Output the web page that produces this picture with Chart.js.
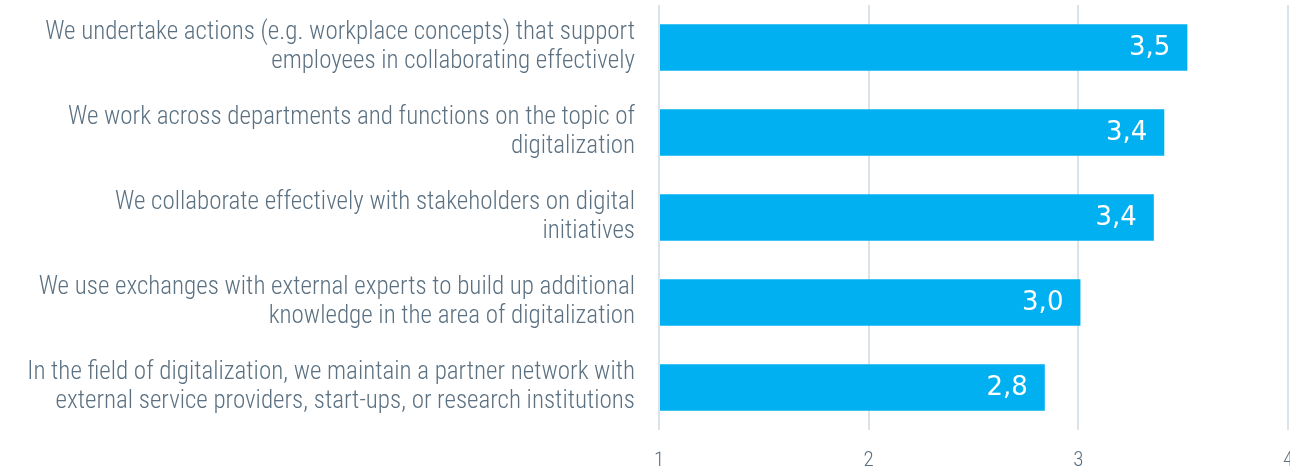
<!DOCTYPE html>
<html>
<head>
<meta charset="utf-8">
<script src="https://cdn.jsdelivr.net/npm/chart.js@4/dist/chart.umd.min.js"></script>
<style>
  html, body { margin: 0; padding: 0; background: #fff; overflow: hidden; }
  #wrap { position: relative; width: 1293px; height: 469px; }
</style>
</head>
<body>
<div id="wrap"><canvas id="collab-chart"></canvas></div>
<script>
// Collaboration statements — mean agreement score (scale 1–4)
const CATEGORIES = [
  ['We undertake actions (e.g. workplace concepts) that support', 'employees in collaborating effectively'],
  ['We work across departments and functions on the topic of', 'digitalization'],
  ['We collaborate effectively with stakeholders on digital', 'initiatives'],
  ['We use exchanges with external experts to build up additional', 'knowledge in the area of digitalization'],
  ['In the field of digitalization, we maintain a partner network with', 'external service providers, start-ups, or research institutions'],
];
const SCORES = [3.52, 3.41, 3.36, 3.01, 2.84];
const X_TICKS = [1, 2, 3, 4];

const BAR_BLUE   = '#00b0f0';
const LABEL_GREY = '#5b7182';
const GRID_GREY  = '#dbe3e8';
const LABEL_FONT = '"Roboto Condensed", "Liberation Sans Narrow", "DejaVu Sans Condensed", sans-serif';

// value text inside the bar end, e.g. "3,5"
const valueLabels = {
  id: 'valueLabels',
  afterDatasetsDraw(chart) {
    const { ctx } = chart;
    const meta = chart.getDatasetMeta(0);
    ctx.save();
    ctx.fillStyle = '#ffffff';
    ctx.font = '26px "DejaVu Sans", Verdana, sans-serif';
    ctx.textAlign = 'right';
    ctx.textBaseline = 'middle';
    meta.data.forEach((bar, i) => {
      const txt = SCORES[i].toFixed(1).replace('.', ',');
      ctx.fillText(txt, bar.x - 17, bar.y + 1);
    });
    ctx.restore();
  },
};

const ctx = document.getElementById('collab-chart').getContext('2d');
new Chart(ctx, {
  type: 'bar',
  data: {
    labels: CATEGORIES,
    datasets: [{
      data: SCORES,
      backgroundColor: BAR_BLUE,
      borderWidth: 0,
      categoryPercentage: 1,
      barPercentage: 0.545,
      base: 1,
    }],
  },
  options: {
    indexAxis: 'y',
    responsive: true,
    maintainAspectRatio: false,
    animation: false,
    layout: { padding: { top: 5, left: 0, right: 5, bottom: 0 } },
    plugins: {
      legend: { display: false },
      tooltip: { enabled: false },
    },
    scales: {
      x: {
        min: 1,
        max: 4,
        afterBuildTicks: s => { s.ticks = X_TICKS.map(v => ({ value: v })); },
        afterFit: s => { s.paddingLeft = 0; s.paddingRight = 0; s.height = 39; },
        ticks: {
          color: LABEL_GREY,
          font: { family: LABEL_FONT, size: 21, weight: 300 },
          padding: 18,
        },
        grid: { color: GRID_GREY, lineWidth: 2, drawTicks: false },
        border: { display: false },
      },
      y: {
        afterFit: s => { s.width = 659; s.paddingTop = 0; s.paddingBottom = 0; },
        ticks: {
          color: LABEL_GREY,
          font: { family: LABEL_FONT, size: 25, weight: 300, lineHeight: 1.16 },
          padding: 16,
        },
        grid: { display: false },
        border: { display: false },
      },
    },
  },
  plugins: [valueLabels],
});
</script>
</body>
</html>
